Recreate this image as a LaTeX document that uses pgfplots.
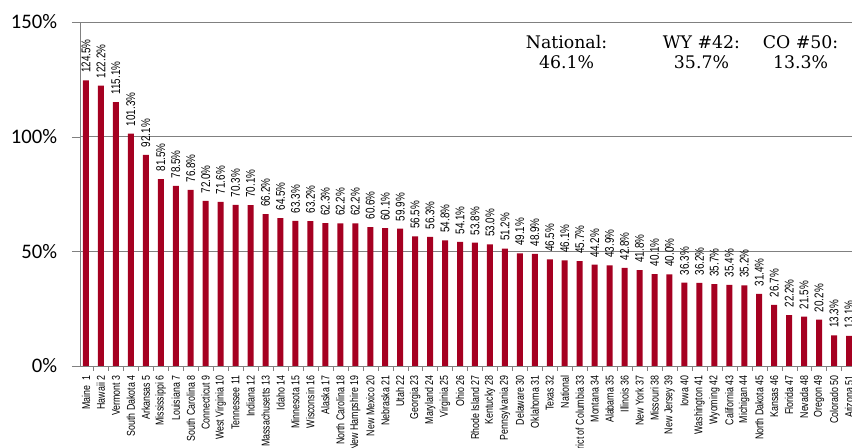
\documentclass[border=0pt]{standalone}
\usepackage{fontspec}
\usepackage{pgfplots}
\pgfplotsset{compat=1.18}
\usepackage{pgfplotstable}
\setmainfont{Carlito}
\newfontfamily\narrow[FakeStretch=0.78]{Liberation Sans}
\newfontfamily\hdr{DejaVu Serif}
\definecolor{barred}{RGB}{165,0,33}
\definecolor{gridgray}{RGB}{128,128,128}

\pgfplotstableread{
idx val
0 124.5
1 122.2
2 115.1
3 101.3
4 92.1
5 81.5
6 78.5
7 76.8
8 72.0
9 71.6
10 70.3
11 70.1
12 66.2
13 64.5
14 63.3
15 63.2
16 62.3
17 62.2
18 62.2
19 60.6
20 60.1
21 59.9
22 56.5
23 56.3
24 54.8
25 54.1
26 53.8
27 53.0
28 51.2
29 49.1
30 48.9
31 46.5
32 46.1
33 45.7
34 44.2
35 43.9
36 42.8
37 41.8
38 40.1
39 40.0
40 36.3
41 36.2
42 35.7
43 35.4
44 35.2
45 31.4
46 26.7
47 22.2
48 21.5
49 20.2
50 13.3
51 13.1
}\rates

\begin{document}
\begin{tikzpicture}
\begin{axis}[
    name=ax,
    scale only axis,
    width=579pt, height=258pt,
    xmin=-0.4, xmax=51.2,
    ymin=0, ymax=150,
    ytick={0,50,100,150},
    yticklabels={0\%,50\%,100\%,150\%},
    yticklabel style={font=\fontsize{15.5}{16}\selectfont, inner sep=0pt, xshift=-11pt},
    xtick=data,
    xticklabels={Maine\ \ 1,Hawaii 2,Vermont 3,South Dakota 4,Arkansas 5,Mississippi 6,Louisiana 7,South Carolina 8,Connecticut 9,West Virginia 10,Tennessee 11,Indiana 12,Massachusetts 13,Idaho 14,Minnesota 15,Wisconsin 16,Alaska 17,North Carolina 18,New Hampshire 19,New Mexico 20,Nebraska 21,Utah 22,Georgia 23,Maryland 24,Virginia 25,Ohio 26,Rhode Island 27,Kentucky 28,Pennsylvania 29,Delaware 30,Oklahoma 31,Texas 32,National,District of Columbia 33,Montana 34,Alabama 35,Illinois 36,New York 37,Missouri 38,New Jersey 39,Iowa 40,Washington 41,Wyoming 42,California 43,Michigan 44,North Dakota 45,Kansas 46,Florida 47,Nevada 48,Oregon 49,Colorado 50,Arizona 51},
    xticklabel style={rotate=90, anchor=east, inner sep=1pt,
        font=\narrow\fontsize{8.5}{9}\selectfont},
    minor xtick={0.5,1.5,...,50.5},
    major x tick style={draw=none},
    minor x tick style={gridgray},
    major y tick style={gridgray},
    tick align=outside,
    major tick length=6pt,
    minor tick length=3.75pt,
    axis x line*=bottom,
    axis y line*=left,
    axis line style={gridgray, line width=0.6pt},
    ymajorgrids,
    grid style={gridgray, line width=0.6pt},
    /pgf/number format/assume math mode=true,
    ]
\addplot[ybar, bar width=4.5pt, fill=barred, draw=none,
    nodes near coords={\pgfmathprintnumber[fixed,fixed zerofill,precision=1]{\pgfplotspointmeta}\%},
    every node near coord/.append style={rotate=90, anchor=west, inner sep=0pt, xshift=5.5pt,
        font=\narrow\fontsize{9.5}{10}\selectfont, text=black}]
    table[x=idx, y=val] {\rates};
\node[font=\hdr\fontsize{13}{15}\selectfont, align=center] at (axis cs:32.12,137) {National:\\46.1\%};
\node[font=\hdr\fontsize{13}{15}\selectfont, align=center] at (axis cs:41.14,137) {WY \#42:\\35.7\%};
\node[font=\hdr\fontsize{13}{15}\selectfont, align=center] at (axis cs:47.76,137) {CO \#50:\\13.3\%};
\end{axis}
\pgfresetboundingbox
\path ([xshift=-60pt,yshift=-61.5pt]ax.south west) rectangle ([yshift=16.5pt]ax.north east);
\end{tikzpicture}
\end{document}
